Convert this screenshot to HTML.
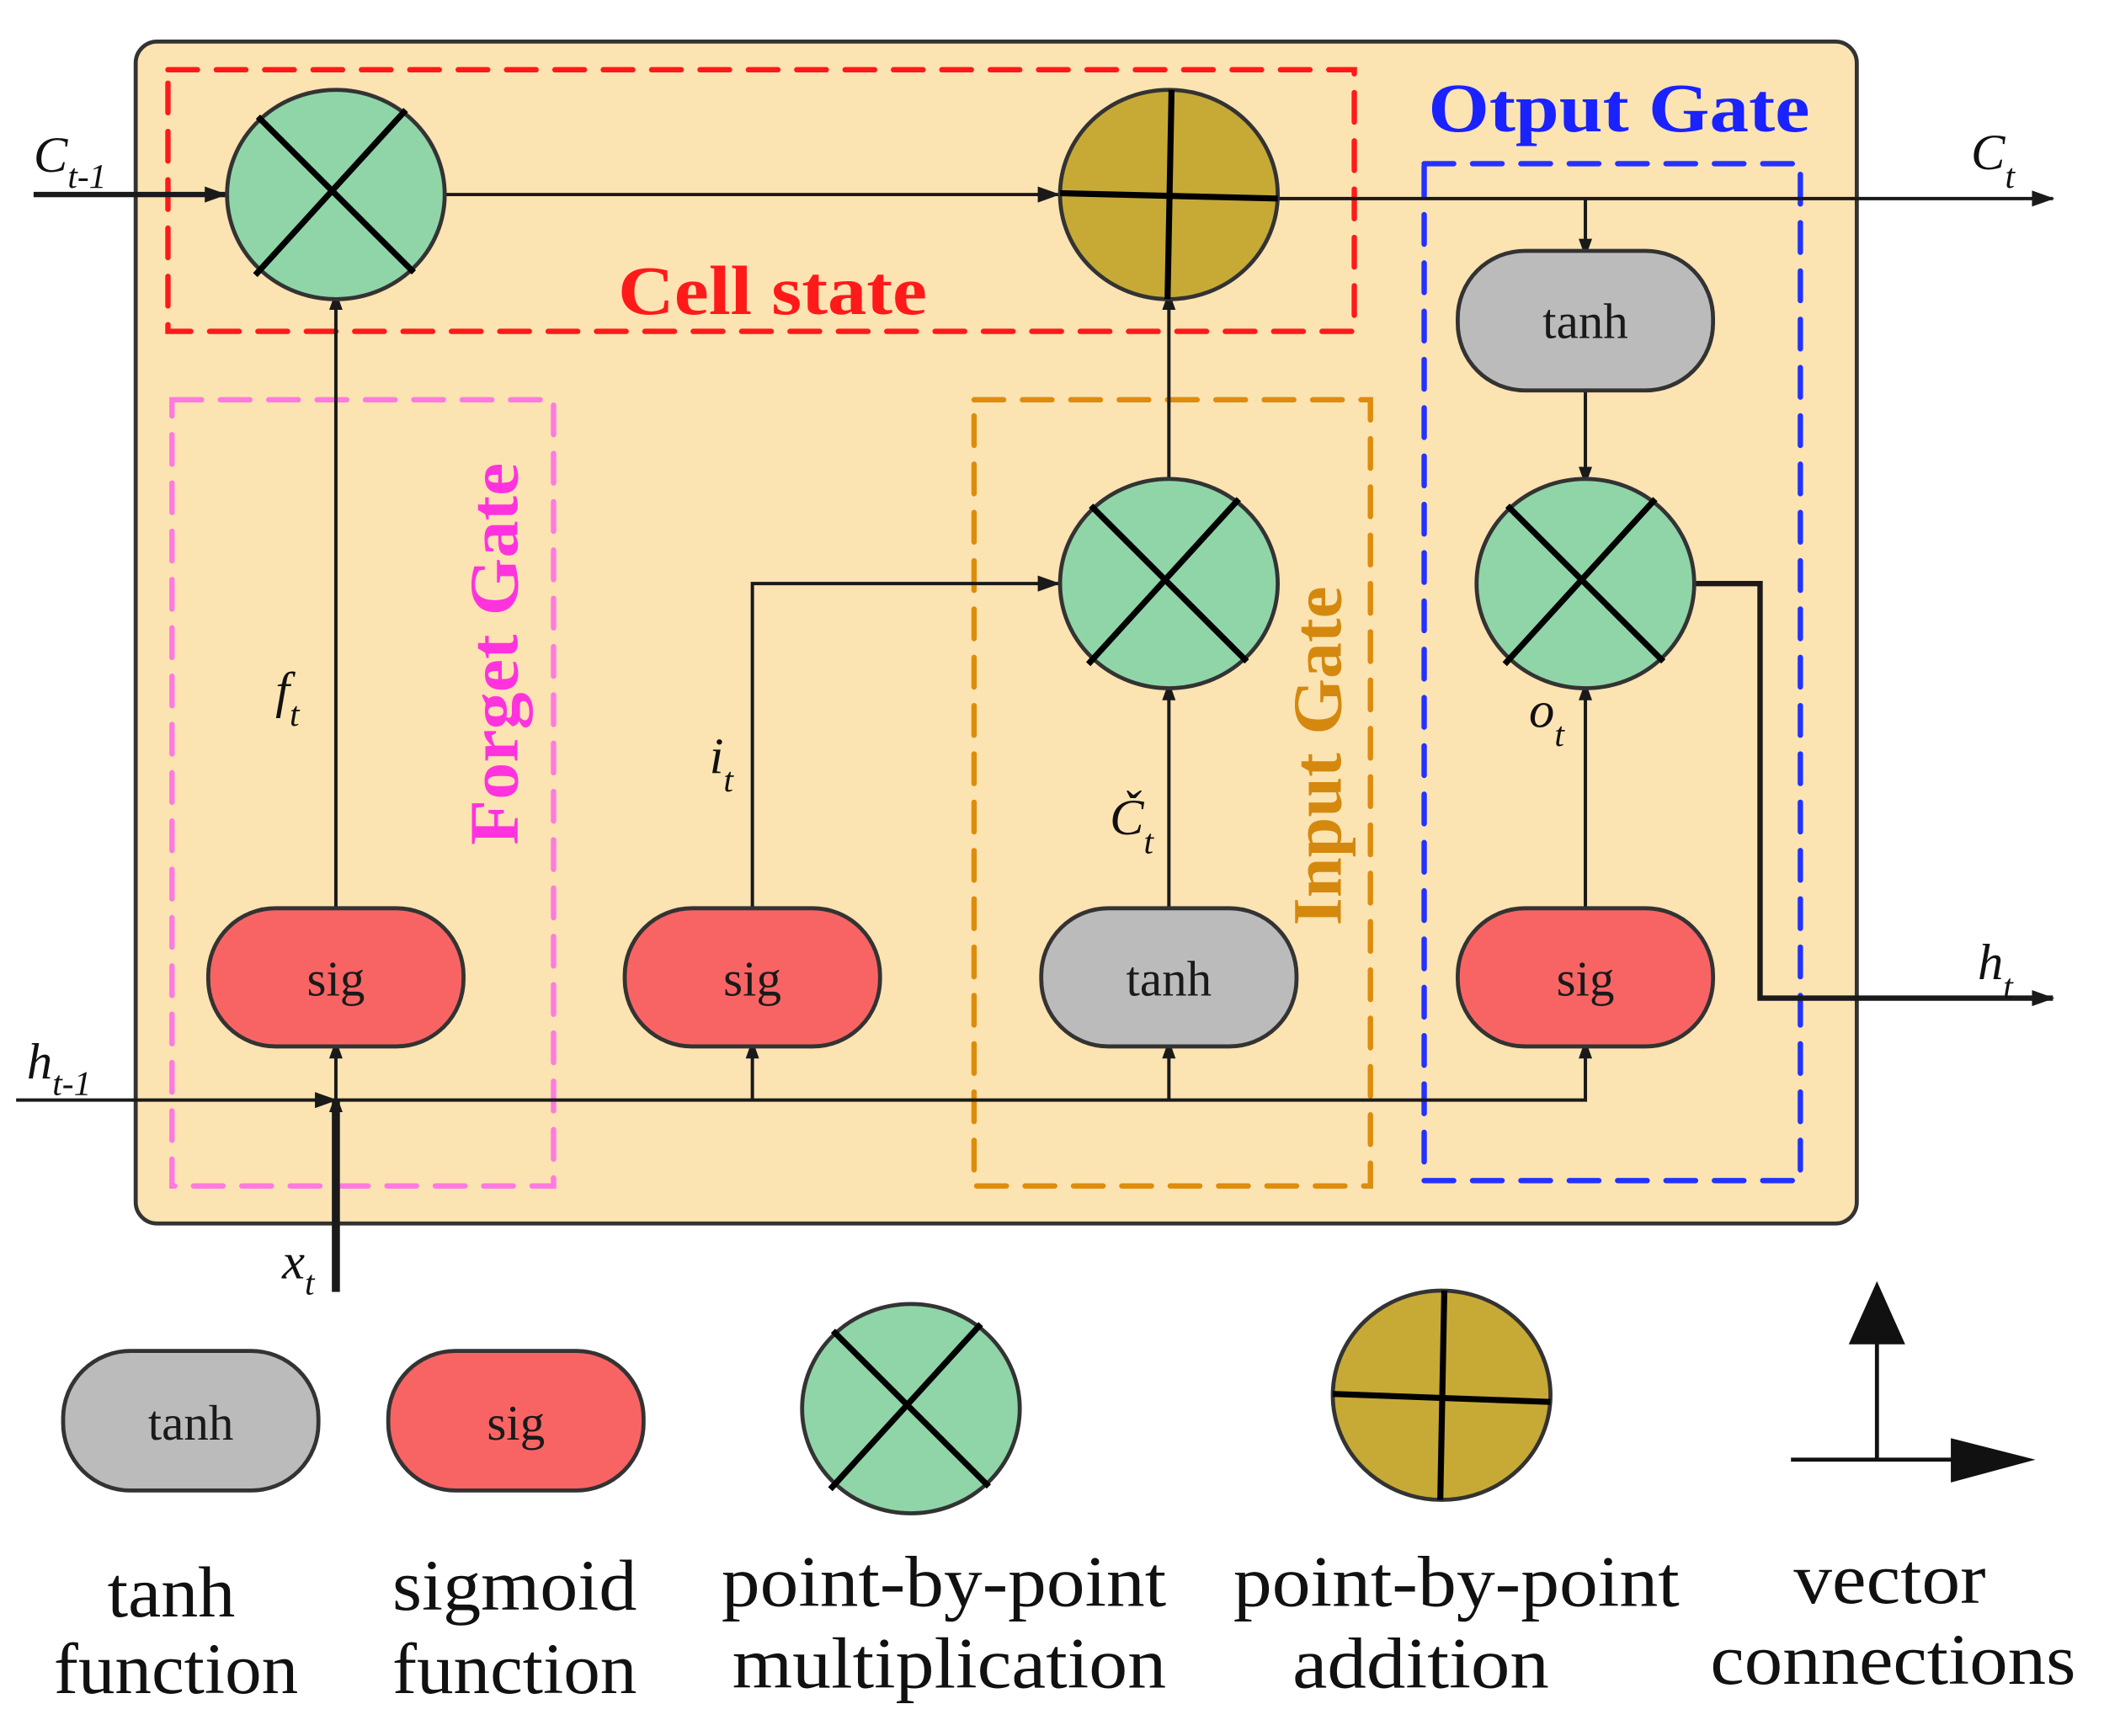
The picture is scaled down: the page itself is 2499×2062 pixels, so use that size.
<!DOCTYPE html>
<html><head><meta charset="utf-8"><style>html,body{margin:0;padding:0;background:#fff}svg{display:block}</style></head>
<body>
<svg width="2499" height="2062" viewBox="0 0 1566 1294" preserveAspectRatio="none" xmlns="http://www.w3.org/2000/svg" font-family="Liberation Serif, serif">
<defs>
<marker id="a" markerWidth="10" markerHeight="10" refX="9" refY="5" orient="auto" markerUnits="userSpaceOnUse"><path d="M0,0 L14,5 L0,10 z" fill="#1a1a1a"/></marker>
<marker id="a2" viewBox="0 0 14 10" markerWidth="18" markerHeight="12" refX="13" refY="5" orient="auto" markerUnits="userSpaceOnUse"><path d="M0,0 L14,5 L0,10 z" fill="#1a1a1a"/></marker>
</defs>
<rect x="101" y="31" width="1281" height="881" rx="16" fill="#FCE3B2" stroke="#333" stroke-width="3"/>
<rect x="125" y="52" width="883" height="195" fill="none" stroke="#FF1A1A" stroke-width="4" stroke-dasharray="22,14" stroke-linecap="round"/>
<rect x="128" y="298" width="284" height="586" fill="none" stroke="#FF7AE0" stroke-width="4" stroke-dasharray="22,14" stroke-linecap="round"/>
<rect x="725" y="298" width="295" height="586" fill="none" stroke="#DD8C0C" stroke-width="4" stroke-dasharray="22,14" stroke-linecap="round"/>
<rect x="1060" y="122" width="280" height="758" fill="none" stroke="#2233FF" stroke-width="4" stroke-dasharray="22,14" stroke-linecap="round"/>

<g stroke="#1a1a1a" stroke-width="2.5" fill="none">
<line x1="25" y1="145" x2="168" y2="145" stroke-width="4" marker-end="url(#a2)"/>
<line x1="332" y1="145" x2="788" y2="145" marker-end="url(#a2)"/>
<line x1="950" y1="148" x2="1528" y2="148" marker-end="url(#a2)"/>
<line x1="1180" y1="148" x2="1180" y2="187" marker-end="url(#a)"/>
<line x1="250" y1="677" x2="250" y2="222" marker-end="url(#a)"/>
<polyline points="560,677 560,435 788,435" marker-end="url(#a2)"/>
<line x1="870" y1="677" x2="870" y2="513" marker-end="url(#a)"/>
<line x1="870" y1="357" x2="870" y2="222" marker-end="url(#a)"/>
<line x1="1180" y1="291" x2="1180" y2="357" marker-end="url(#a)"/>
<line x1="1180" y1="677" x2="1180" y2="513" marker-end="url(#a)"/>
<polyline points="1262,435 1310,435 1310,744 1528,744" stroke-width="4" marker-end="url(#a2)"/>
<line x1="12" y1="820" x2="250" y2="820" marker-end="url(#a2)"/>
<polyline points="250,820 1180,820 1180,780" marker-end="url(#a)"/>
<line x1="250" y1="820" x2="250" y2="780" marker-end="url(#a)"/>
<line x1="560" y1="820" x2="560" y2="780" marker-end="url(#a)"/>
<line x1="870" y1="820" x2="870" y2="780" marker-end="url(#a)"/>
<line x1="250" y1="963" x2="250" y2="820" stroke-width="6" marker-end="url(#a)"/>
</g>

<g stroke="#333" stroke-width="3">
<ellipse cx="250" cy="145" rx="81" ry="78" fill="#8FD5A8"/>
<ellipse cx="870" cy="145" rx="81" ry="78" fill="#C7AA36"/>
<ellipse cx="870" cy="435" rx="81" ry="78" fill="#8FD5A8"/>
<ellipse cx="1180" cy="435" rx="81" ry="78" fill="#8FD5A8"/>
<ellipse cx="678" cy="1050" rx="81" ry="78" fill="#8FD5A8"/>
<ellipse cx="1073" cy="1040" rx="81" ry="78" fill="#C7AA36"/>
</g>
<g stroke="#000" stroke-width="4.5">
<line x1="192" y1="87" x2="308" y2="203"/><line x1="302" y1="82" x2="190" y2="205"/>
<line x1="812" y1="377" x2="928" y2="493"/><line x1="922" y1="372" x2="810" y2="495"/>
<line x1="1122" y1="377" x2="1238" y2="493"/><line x1="1232" y1="372" x2="1120" y2="495"/>
<line x1="620" y1="992" x2="736" y2="1108"/><line x1="730" y1="987" x2="618" y2="1110"/>
<line x1="872" y1="67" x2="869" y2="223"/><line x1="789" y1="144" x2="951" y2="148"/>
<line x1="1075" y1="962" x2="1072" y2="1118"/><line x1="992" y1="1039" x2="1154" y2="1045"/>
</g>

<g stroke="#333" stroke-width="3">
<rect x="155" y="677" width="190" height="103" rx="50" fill="#F86464"/>
<rect x="465" y="677" width="190" height="103" rx="50" fill="#F86464"/>
<rect x="775" y="677" width="190" height="103" rx="50" fill="#BBBBBB"/>
<rect x="1085" y="677" width="190" height="103" rx="50" fill="#F86464"/>
<rect x="1085" y="187" width="190" height="104" rx="50" fill="#BBBBBB"/>
<rect x="47" y="1007" width="190" height="104" rx="50" fill="#BBBBBB"/>
<rect x="289" y="1007" width="190" height="104" rx="50" fill="#F86464"/>
</g>
<g font-size="37" text-anchor="middle" fill="#1a1a1a">
<text x="250" y="742">sig</text><text x="560" y="742">sig</text><text x="870" y="742">tanh</text><text x="1180" y="742">sig</text>
<text x="1180" y="252">tanh</text><text x="142" y="1073">tanh</text><text x="384" y="1073">sig</text>
</g>

<g font-weight="bold" font-size="52">
<text x="460" y="234" fill="#FF1A1A" textLength="230" lengthAdjust="spacingAndGlyphs">Cell state</text>
<text x="1063" y="98" fill="#1A22FF" textLength="284" lengthAdjust="spacingAndGlyphs">Otput Gate</text>
<text transform="translate(385,630) rotate(-90)" fill="#FF33DD" textLength="285" lengthAdjust="spacingAndGlyphs">Forget Gate</text>
<text transform="translate(998,690) rotate(-90)" fill="#D4890E" textLength="253" lengthAdjust="spacingAndGlyphs">Input Gate</text>
</g>

<g font-style="italic" font-size="38" fill="#111">
<text x="25" y="128">C<tspan font-size="26" dy="12">t-1</tspan></text>
<text x="1467" y="126">C<tspan font-size="26" dy="14">t</tspan></text>
<text x="20" y="804">h<tspan font-size="26" dy="12">t-1</tspan></text>
<text x="1472" y="730">h<tspan font-size="26" dy="14">t</tspan></text>
<text x="205" y="527">f<tspan font-size="26" dy="14">t</tspan></text>
<text x="528" y="576">i<tspan font-size="26" dy="14">t</tspan></text>
<text x="826" y="622">Č<tspan font-size="26" dy="14">t</tspan></text>
<text x="1138" y="542">o<tspan font-size="26" dy="14">t</tspan></text>
<text x="210" y="953">x<tspan font-size="26" dy="12">t</tspan></text>
</g>

<g stroke="#111" stroke-width="3">
<line x1="1397" y1="1088" x2="1397" y2="1000"/>
<line x1="1333" y1="1088" x2="1455" y2="1088"/>
</g>
<path d="M1376,1002 L1397,955 L1418,1002 z" fill="#111"/>
<path d="M1452,1072 L1515,1088 L1452,1105 z" fill="#111"/>

<g font-size="54" fill="#111">
<text x="80" y="1205" textLength="95" lengthAdjust="spacingAndGlyphs">tanh</text>
<text x="40" y="1262" textLength="182" lengthAdjust="spacingAndGlyphs">function</text>
<text x="292" y="1200" textLength="182" lengthAdjust="spacingAndGlyphs">sigmoid</text>
<text x="292" y="1262" textLength="182" lengthAdjust="spacingAndGlyphs">function</text>
<text x="537" y="1197" textLength="331" lengthAdjust="spacingAndGlyphs">point-by-point</text>
<text x="545" y="1258" textLength="323" lengthAdjust="spacingAndGlyphs">multiplication</text>
<text x="918" y="1197" textLength="332" lengthAdjust="spacingAndGlyphs">point-by-point</text>
<text x="962" y="1258" textLength="191" lengthAdjust="spacingAndGlyphs">addition</text>
<text x="1335" y="1195" textLength="143" lengthAdjust="spacingAndGlyphs">vector</text>
<text x="1273" y="1255" textLength="272" lengthAdjust="spacingAndGlyphs">connections</text>
</g>
</svg>
</body></html>
